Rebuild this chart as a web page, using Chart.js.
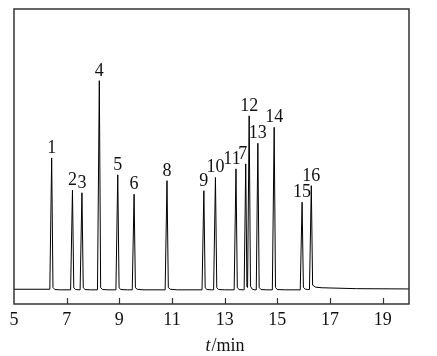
<!DOCTYPE html>
<html>
<head>
<meta charset="utf-8">
<script src="https://cdn.jsdelivr.net/npm/chart.js@4/dist/chart.umd.min.js"></script>
<style>
html,body{margin:0;padding:0;background:#fff;}
#wrap{width:437px;height:356px;}
</style>
</head>
<body>
<div id="wrap"><canvas id="c" width="437" height="356"></canvas></div>
<script>
// Chromatogram trace (time in min, signal in arbitrary units)
const traceTime = [5.0, 6.36, 6.43, 6.48, 6.55, 6.75,
  7.15, 7.22, 7.27, 7.34,
  7.51, 7.58, 7.63, 7.70, 7.90,
  8.17, 8.24, 8.29, 8.36, 8.60,
  8.87, 8.94, 8.99, 9.06, 9.30,
  9.49, 9.56, 9.61, 9.68, 9.90,
  10.74, 10.81, 10.86, 10.94, 11.20,
  12.14, 12.21, 12.26, 12.33, 12.50,
  12.58, 12.65, 12.70, 12.77, 13.00,
  13.36, 13.43, 13.48, 13.55, 13.70,
  13.74, 13.80, 13.845, 13.87,
  13.93, 13.98, 14.05, 14.15,
  14.20, 14.26, 14.31, 14.38, 14.60,
  14.81, 14.88, 14.93, 15.00, 15.30,
  15.87, 15.94, 15.99, 16.07, 16.15,
  16.22, 16.29, 16.34, 16.45, 16.70, 18.00, 20.00];
const traceSignal = [5.0, 5.0, 49.5, 5.6, 4.9, 4.8,
  4.8, 38.6, 5.5, 4.9,
  4.8, 37.7, 5.5, 4.9, 4.8,
  4.8, 75.7, 5.6, 4.9, 4.8,
  4.8, 43.8, 5.5, 4.9, 4.8,
  4.8, 37.2, 5.5, 5.0, 4.8,
  4.8, 41.8, 5.6, 5.0, 4.8,
  4.8, 38.4, 5.5, 4.9, 4.8,
  4.8, 42.9, 5.5, 4.9, 4.8,
  4.8, 45.8, 5.5, 4.9, 4.8,
  4.8, 47.5, 5.8, 5.6,
  63.8, 6.0, 5.0, 4.8,
  4.8, 54.5, 5.6, 4.9, 4.8,
  4.8, 59.9, 5.6, 4.9, 4.8,
  4.8, 34.5, 5.6, 5.0, 4.9,
  4.9, 40.1, 6.4, 5.7, 5.5, 5.2, 5.1];

// Peak labels
const peakLabels  = ['1','2','3','4','5','6','8','9','10','11','7','12','13','14','15','16'];
const peakTimes   = [6.43, 7.22, 7.58, 8.24, 8.94, 9.56, 10.81, 12.21, 12.65, 13.43, 13.80, 13.93, 14.26, 14.88, 15.94, 16.29];
const peakHeights = [49.5, 38.6, 37.7, 75.7, 43.8, 37.2, 41.8, 38.4, 42.9, 45.8, 47.5, 63.8, 54.5, 59.9, 34.5, 40.1];

// Axis
const tickValues = [5, 7, 9, 11, 13, 15, 17, 19];
const xMin = 5, xMax = 20, yMin = 0, yMax = 100;

const SERIF = '"Liberation Serif", "Times New Roman", serif';
const labelShift = {'11': -4, '7': -3};

const decor = {
  id: 'decor',
  afterDatasetsDraw(chart) {
    const ctx = chart.ctx, a = chart.chartArea;
    const xs = chart.scales.x, ys = chart.scales.y;
    ctx.save();
    // frame
    ctx.strokeStyle = '#333';
    ctx.lineWidth = 1.5;
    ctx.strokeRect(a.left, a.top, a.right - a.left, a.bottom - a.top);
    // inward ticks
    ctx.lineWidth = 1.2;
    ctx.beginPath();
    tickValues.forEach(v => {
      const px = Math.round(xs.getPixelForValue(v)) + 0.5;
      if (px <= a.left + 1) return;
      ctx.moveTo(px, a.bottom);
      ctx.lineTo(px, a.bottom - 6);
    });
    ctx.stroke();
    // peak labels
    ctx.fillStyle = '#111';
    ctx.font = '18px ' + SERIF;
    ctx.textAlign = 'center';
    ctx.textBaseline = 'alphabetic';
    peakLabels.forEach((lab, i) => {
      const px = xs.getPixelForValue(peakTimes[i]) + (labelShift[lab] || 0);
      const py = ys.getPixelForValue(peakHeights[i]) - 5;
      ctx.fillText(lab, px, py);
    });
    // axis title: t (italic) /min
    const t1 = 't', t2 = '/min';
    ctx.font = 'italic 18px ' + SERIF;
    const w1 = ctx.measureText(t1).width;
    ctx.font = '18px ' + SERIF;
    const w2 = ctx.measureText(t2).width;
    const cx = (a.left + a.right) / 2 + 13;
    const x0 = cx - (w1 + w2) / 2;
    const by = 351;
    ctx.textAlign = 'left';
    ctx.font = 'italic 18px ' + SERIF;
    ctx.fillText(t1, x0, by);
    ctx.font = '18px ' + SERIF;
    ctx.fillText(t2, x0 + w1 + 1, by);
    ctx.restore();
  }
};

new Chart(document.getElementById('c'), {
  type: 'line',
  data: {
    datasets: [{
      data: traceTime.map((t, i) => ({x: t, y: traceSignal[i]})),
      borderColor: '#000',
      borderWidth: 1,
      pointRadius: 0,
      tension: 0,
      fill: false
    }]
  },
  options: {
    responsive: false,
    animation: false,
    layout: {padding: {left: 14, right: 28, top: 9, bottom: 0}},
    plugins: {legend: {display: false}, tooltip: {enabled: false}, title: {display: false}},
    scales: {
      x: {
        type: 'linear', min: xMin, max: xMax,
        afterBuildTicks: s => { s.ticks = tickValues.map(v => ({value: v})); },
        afterFit: s => { s.height = 52; },
        grid: {display: false, drawTicks: false},
        border: {display: false},
        ticks: {font: {family: SERIF, size: 18}, color: '#111', padding: 5, maxRotation: 0, autoSkip: false}
      },
      y: {
        type: 'linear', min: yMin, max: yMax, display: false
      }
    }
  },
  plugins: [decor]
});
</script>
</body>
</html>
